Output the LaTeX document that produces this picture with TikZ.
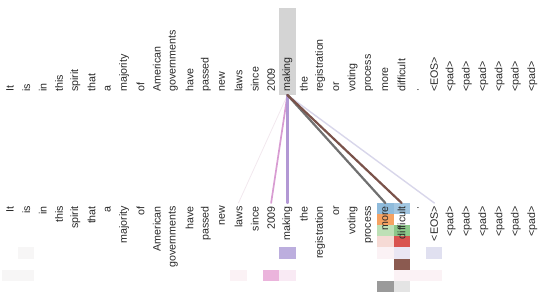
\documentclass[tikz,border=0pt]{standalone}
\usepackage{fontspec}
\setmainfont{Liberation Sans}
\usepackage{tikz}
\definecolor{wordgrey}{RGB}{40,40,40}
\definecolor{hlgrey}{RGB}{212,212,212}
% head colours, faded
\definecolor{hblue}{RGB}{143,187,219}
\definecolor{hbluelt}{RGB}{162,198,225}
\definecolor{horange}{RGB}{245,162,98}
\definecolor{hgreen}{RGB}{140,200,138}
\definecolor{hgreenlt}{RGB}{190,224,182}
\definecolor{hred}{RGB}{217,83,79}
\definecolor{hredlt}{RGB}{246,218,213}
\definecolor{hpurple}{RGB}{188,174,222}
\definecolor{hpurplelt}{RGB}{234,230,243}
\definecolor{hlav}{RGB}{224,224,240}
\definecolor{hbrown}{RGB}{139,90,80}
\definecolor{hpink}{RGB}{235,180,220}
\definecolor{hpinklt}{RGB}{249,234,244}
\definecolor{hpinkxlt}{RGB}{251,242,245}
\definecolor{hgrey}{RGB}{154,154,154}
\definecolor{hgreylt}{RGB}{228,228,228}
\definecolor{hfaint}{RGB}{247,246,246}
\definecolor{lnpink}{RGB}{216,156,210}
\definecolor{lnpurple}{RGB}{178,152,212}
\definecolor{lngrey}{RGB}{112,112,112}
\definecolor{lnbrown}{RGB}{122,82,74}
\definecolor{lnlav}{RGB}{216,214,234}
\definecolor{lnfaint}{RGB}{242,232,238}
\tikzset{
  word/.style={rotate=90, inner xsep=0pt, inner ysep=0pt, text=wordgrey,
    font=\fontsize{10.7}{12}\selectfont},
  srcword/.style={word, anchor=west},
  tgtword/.style={word, anchor=east, inner xsep=3bp},
  hlbox/.style={fill=hlgrey, minimum width=17bp, minimum height=87bp,
    inner sep=0pt, anchor=south},
  attline/.style={line cap=round}
}

\begin{document}
\begin{tikzpicture}[x=1bp, y=-1bp]
  \useasboundingbox (0,0) rectangle (543,301);
  \node[hlbox] (hl) at ({10+17*16.32},95) {};

  % attention cells (column / head row / colour)
  \foreach \i/\r/\c in {23/1/hblue, 24/1/hbluelt, 23/2/horange, 23/3/hgreenlt,
      24/3/hgreen, 23/4/hredlt, 24/4/hred, 23/5/hpinkxlt, 24/5/hpurplelt,
      24/6/hbrown, 24/7/hpinkxlt, 23/8/hgrey, 24/8/hgreylt,
      17/5/hpurple, 17/7/hpinklt, 16/7/hpink, 14/7/hpinkxlt,
      26/5/hlav, 26/7/hpinkxlt, 25/7/hpinkxlt, 1/5/hfaint, 0/7/hfaint, 1/7/hfaint}
    \fill[\c] ({10+16.32*\i-8.16},{203+11.1*(\r-1)}) rectangle ++(16.32,11.1);

  \foreach \w [count=\i from 0] in {It,is,in,this,spirit,that,a,majority,of,
      American,governments,have,passed,new,laws,since,2009,making,the,
      registration,or,voting,process,more,difficult,.,<EOS>,
      <pad>,<pad>,<pad>,<pad>,<pad>,<pad>}
  {
    \node[srcword] (top\i) at ({10+16.32*\i},92) {\w};
    \node[tgtword] (bot\i) at ({10+16.32*\i},203) {\w};
  }

  \draw[attline, lnfaint, line width=0.8bp] (hl.south) -- (bot14.east);
  \draw[attline, lnlav, line width=1.4bp] (hl.south) -- (bot26.east);
  \draw[attline, lnpink, line width=1.7bp] (hl.south) -- (bot16.east);
  \draw[attline, lnpurple, line width=2.2bp] (hl.south) -- (bot17.east);
  \draw[attline, lngrey, line width=2.2bp] (hl.south) -- (bot23.east);
  \draw[attline, lnbrown, line width=2.2bp] (hl.south) -- (bot24.east);
\end{tikzpicture}
\end{document}
